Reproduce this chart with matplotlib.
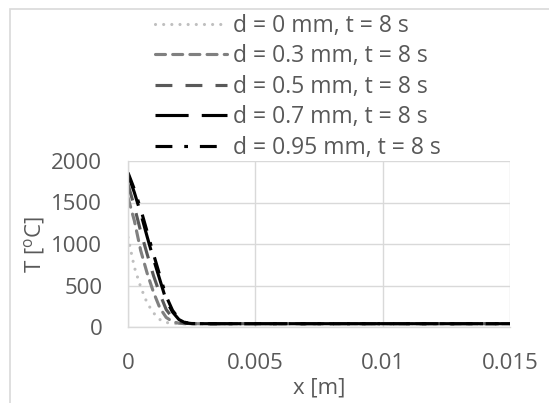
import matplotlib
matplotlib.use("Agg")
import matplotlib.pyplot as plt
from matplotlib.patches import Rectangle

plt.rcParams['font.family'] = ['Open Sans', 'DejaVu Sans']

# sampled positions along x [m]
x = [0, 0.00025, 0.0005, 0.00075, 0.001, 0.00125, 0.0015, 0.00175,
     0.002, 0.00225, 0.0025, 0.003, 0.005, 0.0075, 0.01, 0.0125, 0.015]

# temperature profiles at t = 8 s [degC]
t_d0 = [1080, 720, 480, 290, 170, 90, 55, 42, 40, 40, 40, 40, 40, 40, 40, 40, 40]
t_d03 = [1560, 1280, 920, 650, 420, 230, 115, 65, 45, 40, 40, 40, 40, 40, 40, 40, 40]
t_d05 = [1720, 1450, 1150, 880, 620, 400, 210, 110, 60, 45, 40, 40, 40, 40, 40, 40, 40]
t_d07 = [1840, 1620, 1370, 1090, 820, 570, 320, 180, 90, 50, 42, 40, 40, 40, 40, 40, 40]
t_d095 = [1860, 1660, 1420, 1150, 880, 620, 370, 200, 100, 55, 42, 40, 40, 40, 40, 40, 40]

labels = ['d = 0 mm, t = 8 s', 'd = 0.3 mm, t = 8 s', 'd = 0.5 mm, t = 8 s',
          'd = 0.7 mm, t = 8 s', 'd = 0.95 mm, t = 8 s']
xticks = [0, 0.005, 0.01, 0.015]
xticklabels = ['0', '0.005', '0.01', '0.015']
yticks = [0, 500, 1000, 1500, 2000]

txt = '#595959'
grid = '#D9D9D9'
fs = 16
fs_leg = 16.5

fig = plt.figure(figsize=(5.49, 4.03), dpi=100)
# chart area border (cut off on right / bottom in the original)
fig.patches.append(Rectangle((10 / 549, -0.2), 1.2, 1.2 - 9 / 403,
                             transform=fig.transFigure, fill=False,
                             edgecolor=grid, lw=1.2))

ax = fig.add_axes([128 / 549, 1 - 327 / 403, (510 - 128) / 549, (327 - 161) / 403])

lw = 2.25
ax.plot(x, t_d0, color='#BFBFBF', lw=lw, linestyle=(0, (0.01, 2.6)),
        dash_capstyle='round', label=labels[0])
ax.plot(x, t_d03, color='#808080', lw=lw, linestyle=(0, (3.2, 2.3)),
        dash_capstyle='round', label=labels[1])
ax.plot(x, t_d05, color='#595959', lw=lw, linestyle=(0, (5.4, 4.2)),
        dash_capstyle='butt', label=labels[2])
ax.plot(x, t_d07, color='black', lw=lw, linestyle=(0, (10.6, 4.2)),
        dash_capstyle='butt', label=labels[3])
ax.plot(x, t_d095, color='black', lw=lw, linestyle=(0, (5.4, 3.8, 1.2, 3.8)),
        dash_capstyle='butt', label=labels[4])

ax.set_xlim(0, 0.015)
ax.set_ylim(0, 2000)
ax.set_xticks(xticks)
ax.set_xticklabels(xticklabels)
ax.set_yticks(yticks)
ax.grid(True, color=grid, lw=1)
ax.set_axisbelow(True)
for s in ['top', 'right']:
    ax.spines[s].set_visible(False)
for s in ['left', 'bottom']:
    ax.spines[s].set_color(grid)
    ax.spines[s].set_linewidth(1)
ax.tick_params(length=0, labelsize=fs, labelcolor=txt, pad=18.5)

ax.set_xlabel('x [m]', fontsize=fs, color=txt, labelpad=2.5)
ax.set_ylabel(r'T [$\mathregular{^{o}}$C]', fontsize=fs, color=txt, labelpad=3)

fig.legend(loc='upper left', bbox_to_anchor=(155 / 549, 1 - 14 / 403),
           frameon=False, fontsize=fs_leg, labelcolor=txt, handlelength=3.14,
           handletextpad=0.26, labelspacing=0.28, borderpad=0, borderaxespad=0)

fig.savefig('out.png', dpi=100)
